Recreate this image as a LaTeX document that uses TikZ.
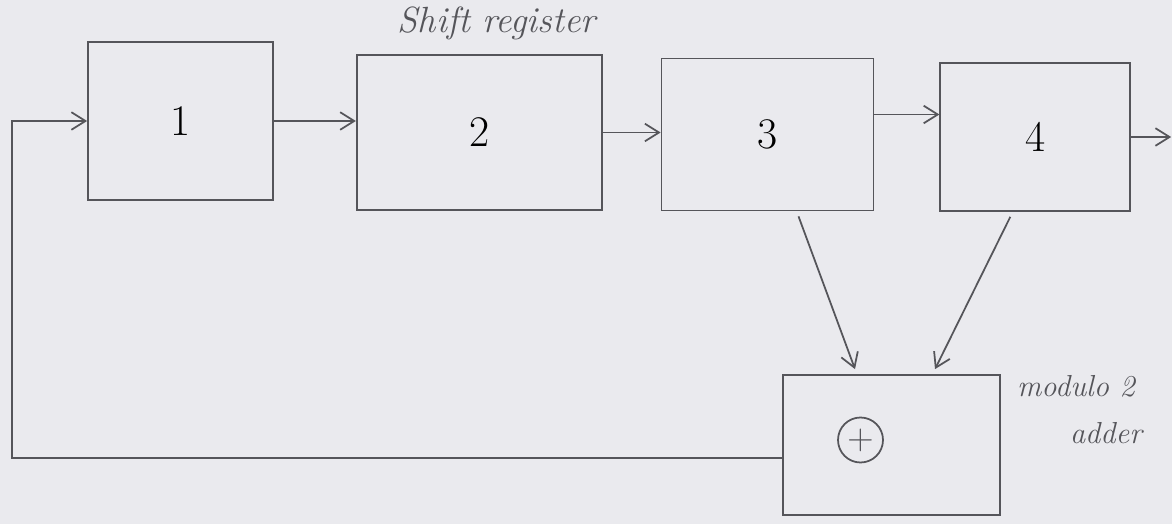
\documentclass[tikz,border=0pt]{standalone}
\usepackage{tikz}
\usetikzlibrary{positioning, arrows.meta, calc}
\definecolor{paper}{RGB}{234,234,238}
\definecolor{pencil}{RGB}{85,85,90}

\begin{document}
\begin{tikzpicture}[
  reg/.style={rectangle, draw=pencil, line width=1pt,
              minimum height=3.1cm, align=center, font=\Huge},
  arr/.style={-{Straight Barb[length=8pt, width=10pt]}, draw=pencil, line width=1pt},
  lbl/.style={font=\LARGE\itshape, text=pencil}
]
  \fill[paper] (0,0) rectangle (23.44,-10.48);
  \useasboundingbox (0,0) rectangle (23.44,-10.48);

  % shift register stages
  \node[reg, minimum width=3.7cm, minimum height=3.16cm] (reg1) at (3.61,-2.42) {1};
  \node[reg, minimum width=4.9cm, right=1.64cm of reg1, yshift=-0.23cm] (reg2) {2};
  \node[reg, minimum width=4.24cm, minimum height=3.04cm, right=1.16cm of reg2, yshift=-0.04cm] (reg3) {3};
  \node[reg, minimum width=3.8cm, minimum height=2.96cm, right=1.3cm of reg3, yshift=-0.05cm] (reg4) {4};

  \node[lbl, font=\huge\itshape, above=0.15cm of reg2, xshift=0.35cm] (title) {Shift register};

  % modulo-2 adder
  \node[reg, minimum width=4.34cm, minimum height=2.8cm] (adder) at (17.83,-8.9) {};
  \node[circle, draw=pencil, line width=1pt, inner sep=0pt, minimum size=0.9cm, font=\huge, text=pencil]
       (xor) at ([xshift=-0.62cm, yshift=0.1cm]adder.center) {$+$};
  \node[lbl, anchor=west] (mod) at ([xshift=0.2cm, yshift=-0.25cm]adder.north east) {modulo 2};
  \node[lbl, below=0.25cm of mod, xshift=0.6cm] (add) {adder};

  % stage to stage
  \coordinate (t3) at ([yshift=0.4cm]reg3.east);
  \draw[arr] (reg1.east) -- (reg2.west |- reg1.east);
  \draw[arr] (reg2.east) -- (reg3.west |- reg2.east);
  \draw[arr] (t3) -- (reg4.west |- t3);
  \coordinate[right=0.8cm of reg4] (out);
  \draw[arr] (reg4.east) -- (out);

  % taps into the adder
  \draw[arr] ([xshift=0.62cm, yshift=-0.1cm]reg3.south) -- ([xshift=-0.73cm, yshift=0.1cm]adder.north);
  \draw[arr] ([xshift=-0.5cm, yshift=-0.1cm]reg4.south) -- ([xshift=0.87cm, yshift=0.1cm]adder.north);

  % feedback
  \coordinate (fb) at (0.24,-9.16);
  \draw[arr] ([yshift=-0.26cm]adder.west) -- (fb) |- (reg1.west);
\end{tikzpicture}
\end{document}
